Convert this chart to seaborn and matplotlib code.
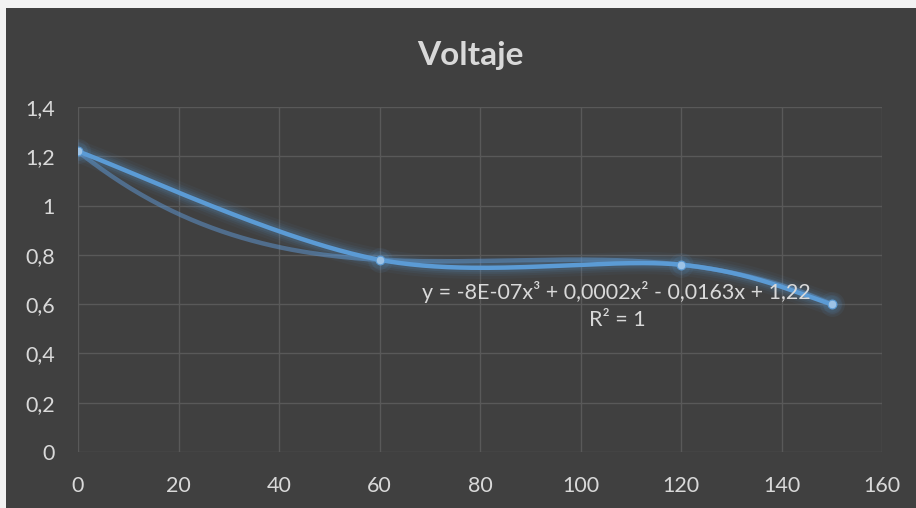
import numpy as np
import pandas as pd
import matplotlib
matplotlib.use("Agg")
import matplotlib.pyplot as plt
import seaborn as sns
from matplotlib.patches import Rectangle

# Data
tiempo = [0, 60, 120, 150]
voltaje = [1.22, 0.78, 0.76, 0.60]
x_ticks = [0, 20, 40, 60, 80, 100, 120, 140, 160]
y_ticks = [0, 0.2, 0.4, 0.6, 0.8, 1.0, 1.2, 1.4]
titulo = "Voltaje"
ecuacion = "y = -8E-07x³ + 0,0002x² - 0,0163x + 1,22"
r2_texto = "R² = 1"

BG = "#404040"
GRID = "#595959"
TXT = "#d9d9d9"
BLUE = "#5b9bd5"

sns.set_theme(style="dark")
plt.rcParams["font.family"] = ["Lato", "DejaVu Sans"]


def smooth_curve(xs, ys, n=80):
    """Bezier smoothing through points (Catmull-Rom style control points)."""
    px = np.array(xs, float)
    py = np.array(ys, float)
    # work in normalised space so both axes weigh similarly
    sx, sy = 160.0, 1.4
    P = np.column_stack([px / sx, py / sy])
    pts = []
    for i in range(len(P) - 1):
        p0 = P[i - 1] if i > 0 else P[i]
        p1, p2 = P[i], P[i + 1]
        p3 = P[i + 2] if i + 2 < len(P) else P[i + 1]
        c1 = p1 + (p2 - p0) / 6.0
        c2 = p2 - (p3 - p1) / 6.0
        t = np.linspace(0, 1, n)[:, None]
        seg = ((1 - t) ** 3) * p1 + 3 * ((1 - t) ** 2) * t * c1 + 3 * (1 - t) * t ** 2 * c2 + t ** 3 * p2
        pts.append(seg if i == 0 else seg[1:])
    pts = np.vstack(pts)
    return pts[:, 0] * sx, pts[:, 1] * sy


fig = plt.figure(figsize=(9.16, 5.08), dpi=100)
fig.patch.set_facecolor("#f2f2f2")
fig.patches.append(Rectangle((6 / 916, 0), 1, 1 - 8 / 508, transform=fig.transFigure,
                             facecolor=BG, edgecolor="none", zorder=-10))

ax = fig.add_axes([78 / 916, 1 - 452 / 508, 804 / 916, 345 / 508])
ax.set_facecolor(BG)

# polynomial trendline (order 3)
coef = np.polyfit(tiempo, voltaje, 3)
xt = np.linspace(0, 150, 300)
trend = pd.DataFrame({"x": xt, "y": np.polyval(coef, xt)})
sns.lineplot(data=trend, x="x", y="y", ax=ax, color="#5b8cc0", alpha=0.6,
             linewidth=3.2, zorder=3, estimator=None, sort=False)

# smoothed series with a soft glow
sxv, syv = smooth_curve(tiempo, voltaje)
curve = pd.DataFrame({"x": sxv, "y": syv})
for lw, a in [(16, 0.05), (12, 0.07), (9, 0.09), (6.5, 0.12)]:
    ax.plot(curve["x"], curve["y"], color=BLUE, linewidth=lw, alpha=a,
            solid_capstyle="round", zorder=4)
sns.lineplot(data=curve, x="x", y="y", ax=ax, color=BLUE, linewidth=3.2,
             zorder=5, estimator=None, sort=False)

pts = pd.DataFrame({"x": tiempo, "y": voltaje})
for s, a in [(320, 0.08), (180, 0.12)]:
    ax.scatter(pts["x"], pts["y"], s=s, color=BLUE, alpha=a, linewidths=0, zorder=6)
sns.scatterplot(data=pts, x="x", y="y", ax=ax, color="#9dc3e6", s=40,
                edgecolor="#5b9bd5", linewidth=0.8, zorder=7)

ax.set_xlim(0, 160)
ax.set_ylim(0, 1.4)
ax.set_xticks(x_ticks)
ax.set_yticks(y_ticks)
ax.set_xticklabels([str(v) for v in x_ticks])
ax.set_yticklabels([("%g" % v).replace(".", ",") for v in y_ticks])
ax.tick_params(colors=TXT, labelsize=15.5, length=0)
ax.tick_params(axis="x", pad=17)
ax.tick_params(axis="y", pad=16.5)
ax.grid(True, color=GRID, linewidth=1.0)
for sp in ax.spines.values():
    sp.set_visible(False)
ax.set_xlabel("")
ax.set_ylabel("")

ax.text(107.1, 0.649, ecuacion, ha="center", va="center", color=TXT, fontsize=15.5, zorder=8)
ax.text(107.3, 0.536, r2_texto, ha="center", va="center", color=TXT, fontsize=15.5, zorder=8)

fig.text(470 / 916, 1 - 55 / 508, titulo, ha="center", va="center", color=TXT,
         fontsize=24, fontweight="bold")

fig.savefig("out.png", dpi=100, facecolor=fig.get_facecolor())
